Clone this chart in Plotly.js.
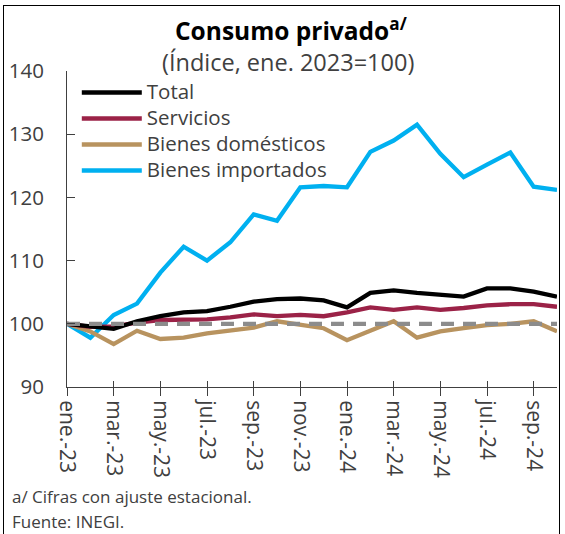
<!DOCTYPE html>
<html>
<head>
<meta charset="utf-8">
<script src="https://cdn.plot.ly/plotly-3.0.1.min.js"></script>
<style>
  html, body { margin: 0; padding: 0; background: #fff; }
  #frame { position: absolute; left: 3px; top: 5px; width: 557px; height: 540px; border-top: 1.5px solid #000; border-left: 1.5px solid #000; border-right: 1.5px solid #000; box-sizing: border-box; pointer-events: none; }
  #chart { position: absolute; left: 0; top: 0; width: 565px; height: 534px; }
</style>
</head>
<body>
<div id="chart"></div>
<div id="frame"></div>
<script>
const months = ['ene.-23','feb.-23','mar.-23','abr.-23','may.-23','jun.-23','jul.-23','ago.-23','sep.-23','oct.-23','nov.-23','dic.-23',
                'ene.-24','feb.-24','mar.-24','abr.-24','may.-24','jun.-24','jul.-24','ago.-24','sep.-24','oct.-24'];
const tickLabels = ['ene.-23','mar.-23','may.-23','jul.-23','sep.-23','nov.-23','ene.-24','mar.-24','may.-24','jul.-24','sep.-24'];

const total      = [100, 99.6, 99.2, 100.4, 101.2, 101.8, 102.0, 102.7, 103.5, 103.9, 104.0, 103.7, 102.6, 104.9, 105.3, 104.9, 104.6, 104.3, 105.6, 105.6, 105.1, 104.3];
const servicios  = [100, 99.5, 99.6, 100.2, 100.6, 100.7, 100.7, 101.0, 101.5, 101.2, 101.4, 101.2, 101.8, 102.6, 102.2, 102.6, 102.2, 102.5, 102.9, 103.1, 103.1, 102.7];
const domesticos = [100, 98.8, 96.8, 98.9, 97.6, 97.8, 98.5, 99.0, 99.4, 100.4, 99.8, 99.3, 97.4, 98.9, 100.4, 97.8, 98.8, 99.3, 99.8, 100.0, 100.4, 98.8];
const importados = [100, 97.8, 101.4, 103.2, 108.1, 112.2, 110.0, 112.9, 117.3, 116.3, 121.6, 121.8, 121.6, 127.2, 129.0, 131.5, 126.9, 123.2, 125.2, 127.1, 121.7, 121.2];
const base       = [100, 100, 100, 100, 100, 100, 100, 100, 100, 100, 100, 100, 100, 100, 100, 100, 100, 100, 100, 100, 100, 100];

const FONT = 'Open Sans, Noto Sans, sans-serif';
const TXT = '#404040';
const big = s => '<span style="font-size:20.5px">' + s + '</span>';

const traces = [
  {x: months, y: importados, name: big('Bienes importados'), type: 'scatter', mode: 'lines', line: {color: '#00B0F0', width: 4.3}, legendrank: 4},
  {x: months, y: domesticos, name: big('Bienes domésticos'), type: 'scatter', mode: 'lines', line: {color: '#B8935F', width: 4.3}, legendrank: 3},
  {x: months, y: servicios, name: big('Servicios'), type: 'scatter', mode: 'lines', line: {color: '#9B2247', width: 4.3}, legendrank: 2},
  {x: months, y: total, name: big('Total'), type: 'scatter', mode: 'lines', line: {color: '#000000', width: 4.3}, legendrank: 1},
  {x: months, y: base, name: 'base', type: 'scatter', mode: 'lines', showlegend: false, xaxis: 'x2', line: {color: '#8C8C8C', width: 4.3, dash: '13px,9px'}}
];

const layout = {
  width: 565, height: 534,
  margin: {l: 67, r: 8, t: 71, b: 147},
  paper_bgcolor: '#fff', plot_bgcolor: '#fff',
  font: {family: FONT, color: TXT, size: 20},
  showlegend: true,
  legend: {x: 0.02, y: 0.989, xanchor: 'left', yanchor: 'top', bgcolor: 'rgba(0,0,0,0)',
           font: {family: FONT, size: 17.7, color: TXT}, itemwidth: 60, traceorder: 'normal'},
  xaxis: {type: 'category', categoryorder: 'array', categoryarray: months, range: [0, 21],
          tickmode: 'array', tickvals: tickLabels, ticktext: tickLabels, tickangle: 90,
          ticks: 'outside', ticklen: 8, tickcolor: '#404040', tickwidth: 1,
          showline: true, linecolor: '#404040', linewidth: 1, showgrid: false, zeroline: false,
          tickfont: {family: FONT, size: 21, color: TXT}, fixedrange: true},
  xaxis2: {type: 'category', overlaying: 'x', matches: 'x', anchor: 'y', side: 'bottom',
           tickmode: 'array', tickvals: tickLabels, ticks: 'inside', ticklen: 6, tickcolor: '#404040', tickwidth: 1,
           showticklabels: false, showline: false, showgrid: false, zeroline: false},
  yaxis: {range: [90, 140], tickmode: 'array', tickvals: [90, 100, 110, 120, 130, 140],
          ticks: 'inside', ticklen: 8, tickcolor: '#404040', tickwidth: 1, ticklabelstandoff: 18,
          showline: true, linecolor: '#404040', linewidth: 1, showgrid: false, zeroline: false,
          tickfont: {family: FONT, size: 20.5, color: TXT}, fixedrange: true},
  annotations: [
    {text: '<b>Consumo privado<sup style="font-size:14px">a/</sup></b>', xref: 'paper', yref: 'paper', x: 0.457, y: 1.13,
     xanchor: 'center', yanchor: 'middle', showarrow: false, font: {family: FONT, size: 24.5, color: '#000'}},
    {text: '(Índice, ene. 2023=100)', xref: 'paper', yref: 'paper', x: 0.452, y: 1.027,
     xanchor: 'center', yanchor: 'middle', showarrow: false, font: {family: FONT, size: 23.5, color: TXT}},
    {text: 'a/ Cifras con ajuste estacional.', xref: 'paper', yref: 'paper', x: -0.117, y: -0.346,
     xanchor: 'left', yanchor: 'middle', showarrow: false, font: {family: FONT, size: 17, color: TXT}},
    {text: 'Fuente: INEGI.', xref: 'paper', yref: 'paper', x: -0.117, y: -0.425,
     xanchor: 'left', yanchor: 'middle', showarrow: false, font: {family: FONT, size: 17, color: TXT}}
  ]
};

Plotly.newPlot('chart', traces, layout, {displayModeBar: false, staticPlot: true});
</script>
</body>
</html>
